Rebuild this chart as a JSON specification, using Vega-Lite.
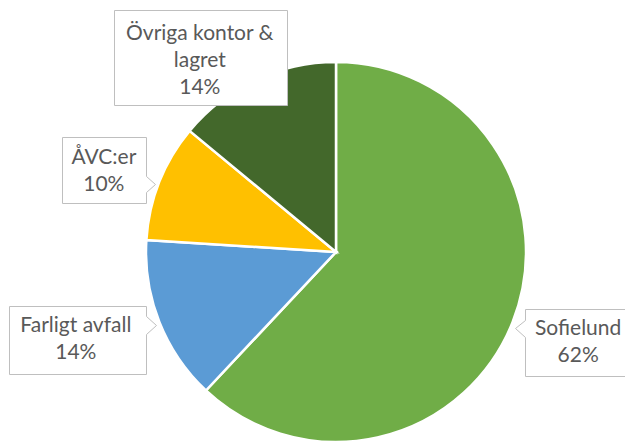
{
  "$schema": "https://vega.github.io/schema/vega-lite/v6.json",
  "autosize": "none",
  "padding": {"left": 46, "top": 62, "right": 0, "bottom": 0},
  "width": 580,
  "height": 380,
  "background": "white",
  "config": {"view": {"stroke": null}},
  "data": {
    "values": [
      {"cat": "Sofielund", "value": 62},
      {"cat": "Farligt avfall", "value": 14},
      {"cat": "ÅVC:er", "value": 10},
      {"cat": "Övriga kontor & lagret", "value": 14}
    ]
  },
  "transform": [
    {"window": [{"op": "row_number", "as": "rank"}]},
    {"calculate": "replace(datum.cat, '& ', '&\\n') + '\\n' + datum.value + '%'", "as": "label"}
  ],
  "layer": [
    {
      "mark": {"type": "arc", "stroke": "white", "strokeWidth": 2.5},
      "encoding": {
        "theta": {"field": "value", "type": "quantitative", "stack": true},
        "order": {"field": "rank", "type": "quantitative"},
        "color": {
          "field": "cat",
          "type": "nominal",
          "scale": {
            "domain": ["Sofielund", "Farligt avfall", "ÅVC:er", "Övriga kontor & lagret"],
            "range": ["#70AD47", "#5B9BD5", "#FFC000", "#43682B"]
          },
          "legend": null
        }
      }
    },
    {
      "mark": {"type": "point", "filled": true, "fill": "white", "stroke": "#BFBFBF", "strokeWidth": 1, "fillOpacity": 1, "strokeOpacity": 1, "opacity": 1, "size": 4},
      "encoding": {
        "shape": {
          "field": "cat",
          "type": "nominal",
          "scale": {
            "domain": ["Sofielund", "Farligt avfall", "ÅVC:er", "Övriga kontor & lagret"],
            "range": [
              "M189.5,57.5H295.5V124.5H189.5V85.5L179.5,76.5L189.5,68.5Z",
              "M-326.5,54.5H-189.5V64.5L-179.5,73.5L-189.5,82.5V122.5H-326.5Z",
              "M-273.5,-114.5H-189.5V-75.5L-180.5,-67.5L-189.5,-59.5V-48.5H-273.5Z",
              "M-221.5,-241.5H-48.5V-146.5H-221.5Z"
            ]
          },
          "legend": null
        }
      }
    },
    {
      "mark": {
        "type": "text",
        "radius": 240,
        "font": "Lato",
        "fontSize": 21,
        "lineHeight": 27,
        "lineBreak": "\n",
        "color": "#595959",
        "align": "center",
        "baseline": "middle",
        "dx": {"expr": "datum.cat === 'Sofielund' ? 19 : datum.cat === 'Farligt avfall' ? -37 : datum.cat === 'ÅVC:er' ? -9 : -34"},
        "dy": {"expr": "datum.cat === 'Sofielund' ? -11 : datum.cat === 'Farligt avfall' ? -14 : datum.cat === 'ÅVC:er' ? -6 : -1"}
      },
      "encoding": {
        "theta": {"field": "value", "type": "quantitative", "stack": true},
        "order": {"field": "rank", "type": "quantitative"},
        "text": {"field": "label", "type": "nominal"}
      }
    }
  ]
}
